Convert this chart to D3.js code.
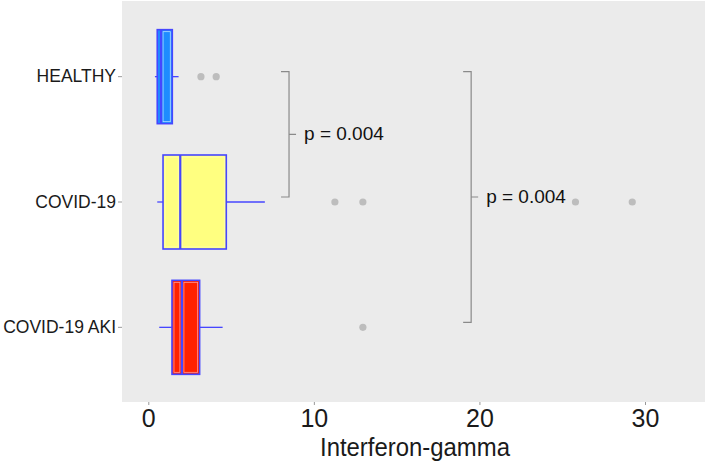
<!DOCTYPE html>
<html><head><meta charset="utf-8">
<script src="https://cdn.jsdelivr.net/npm/d3@7"></script>
<style>html,body{margin:0;padding:0;background:#fff;}svg{display:block;}</style>
</head><body>
<svg id="c" width="709" height="464"></svg>
<script>
const categories = ["HEALTHY", "COVID-19", "COVID-19 AKI"];
const whiskerLow = [0.40, 0.54, 0.66];
const q1 = [0.54, 0.89, 1.43];
const median = [0.77, 1.93, 2.03];
const q3 = [1.45, 4.71, 3.10];
const whiskerHigh = [1.83, 7.04, 4.49];
const outliers = [[3.18, 4.10], [11.27, 12.96, 25.8, 29.23], [12.96]];
const fills = ["#1e8cff", "#ffff80", "#ff2200"];
const innerStrokes = ["#b8dcff", "#ffffb0", "#ff9a9a"];
const xTicks = [0, 10, 20, 30];
const xTitle = "Interferon-gamma";
const comparisons = [
  {from: "HEALTHY", to: "COVID-19", x: 8.5, label: "p = 0.004"},
  {from: "HEALTHY", to: "COVID-19 AKI", x: 19.5, label: "p = 0.004"}
];

const svg = d3.select("#c");
const panel = {left: 122, right: 705, top: 1, bottom: 402};
const x = d3.scaleLinear().domain([0, 30]).range([148.3, 645]);
const y = d3.scaleBand().domain(categories).range([14, 390]).paddingInner(0).paddingOuter(0);
const yc = c => y(c) + y.bandwidth() / 2;
const boxH = y.bandwidth() * 0.75;
const boxStroke = "#4646ff";

svg.append("rect").attr("x", panel.left).attr("y", panel.top)
  .attr("width", panel.right - panel.left).attr("height", panel.bottom - panel.top)
  .attr("fill", "#ebebeb");

// axes
const xAxis = d3.axisBottom(x).tickValues(xTicks).tickSize(3).tickPadding(4).tickFormat(d3.format("d"));
const gx = svg.append("g").attr("transform", `translate(0,${panel.bottom})`).call(xAxis);
gx.select(".domain").remove();
gx.selectAll(".tick line").attr("stroke", "#999");
gx.selectAll(".tick text").attr("fill", "#1a1a1a").attr("font-family", "Liberation Sans, Arial, sans-serif")
  .attr("font-size", 25).attr("dy", "0.71em").attr("transform", "scale(1,1)");

const yAxis = d3.axisLeft(y).tickSize(4).tickPadding(2);
const gy = svg.append("g").attr("transform", `translate(${panel.left},0)`).call(yAxis);
gy.select(".domain").remove();
gy.selectAll(".tick line").attr("stroke", "#999");
gy.selectAll(".tick text").attr("fill", "#1a1a1a").attr("font-family", "Liberation Sans, Arial, sans-serif")
  .attr("font-size", 17.5);

svg.append("text").attr("x", (320 + 510) / 2).attr("y", 456).attr("text-anchor", "middle")
  .attr("font-family", "Liberation Sans, Arial, sans-serif").attr("font-size", 25)
  .attr("textLength", 190).attr("lengthAdjust", "spacingAndGlyphs")
  .attr("fill", "#1a1a1a").text(xTitle);

// boxes
const g = svg.append("g");
categories.forEach((c, i) => {
  const cy = yc(c);
  const top = cy - boxH / 2;
  // whiskers
  g.append("line").attr("x1", x(whiskerLow[i])).attr("x2", x(q1[i])).attr("y1", cy).attr("y2", cy)
    .attr("stroke", boxStroke).attr("stroke-width", 1.3);
  g.append("line").attr("x1", x(q3[i])).attr("x2", x(whiskerHigh[i])).attr("y1", cy).attr("y2", cy)
    .attr("stroke", boxStroke).attr("stroke-width", 1.3);
  // box
  g.append("rect").attr("x", x(q1[i])).attr("y", top).attr("width", x(q3[i]) - x(q1[i])).attr("height", boxH)
    .attr("fill", fills[i]).attr("stroke", boxStroke).attr("stroke-width", 1.6);
  // inner light outlines
  const segs = [[q1[i], median[i]], [median[i], q3[i]]];
  segs.forEach(([a, b]) => {
    const w = x(b) - x(a) - 4;
    if (w > 1) {
      g.append("rect").attr("x", x(a) + 2).attr("y", top + 2).attr("width", w).attr("height", boxH - 4)
        .attr("fill", "none").attr("stroke", innerStrokes[i]).attr("stroke-width", 0.8);
    }
  });
  // median
  g.append("line").attr("x1", x(median[i])).attr("x2", x(median[i])).attr("y1", top).attr("y2", top + boxH)
    .attr("stroke", boxStroke).attr("stroke-width", 2.2);
  // outliers
  outliers[i].forEach(v => {
    g.append("circle").attr("cx", x(v)).attr("cy", cy).attr("r", 3.6).attr("fill", "#bdbdbd");
  });
});

// comparison brackets
comparisons.forEach(cmp => {
  const bx = x(cmp.x);
  const y1 = yc(cmp.from) - 5, y2 = yc(cmp.to) - 5;
  const ym = (y1 + y2) / 2;
  svg.append("path")
    .attr("d", `M${bx - 8},${y1} H${bx} V${y2} H${bx - 8} M${bx},${ym} H${bx + 7}`)
    .attr("fill", "none").attr("stroke", "#8a8a8a").attr("stroke-width", 1.2);
  svg.append("text").attr("x", bx + 15).attr("y", ym + 6)
    .attr("font-family", "Liberation Sans, Arial, sans-serif").attr("font-size", 19)
    .attr("fill", "#111").text(cmp.label);
});
</script>
</body></html>
